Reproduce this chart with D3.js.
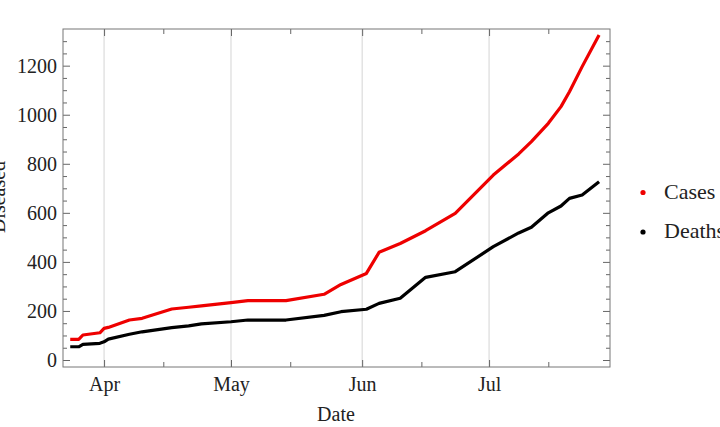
<!DOCTYPE html>
<html>
<head>
<meta charset="utf-8">
<script src="https://cdn.jsdelivr.net/npm/d3@7"></script>
<style>
  body { margin: 0; background: #fff; }
  svg text { font-family: "Liberation Serif", "DejaVu Serif", serif; fill: #222; }
</style>
</head>
<body>
<div class="chart-div"></div>
<script>
let dates = ["2020-03-24", "2020-03-26", "2020-03-27", "2020-03-31", "2020-04-01", "2020-04-02",
    "2020-04-07", "2020-04-10", "2020-04-17", "2020-04-21", "2020-04-24", "2020-05-01",
    "2020-05-05", "2020-05-14", "2020-05-23", "2020-05-27", "2020-06-02", "2020-06-05",
    "2020-06-10", "2020-06-16", "2020-06-23", "2020-07-02", "2020-07-08", "2020-07-11",
    "2020-07-15", "2020-07-18", "2020-07-20", "2020-07-23", "2020-07-27"]
let cases = [84, 84, 102, 111, 129, 133, 163, 170, 208, 215, 221, 234, 242, 242, 268, 308,
    353, 439, 475, 527, 598, 754, 840, 890, 965, 1033, 1094, 1196, 1325]
let deaths = [54, 54, 64, 68, 74, 85, 105, 115, 132, 139, 147, 156, 163, 163, 182, 197,
    207, 231, 252, 337, 360, 462, 518, 541, 600, 628, 659, 673, 727]
let yTicks = [0, 200, 400, 600, 800, 1000, 1200]
let monthTicks = ["2020-04-01", "2020-05-01", "2020-06-01", "2020-07-01"]
let midTicks = ["2020-04-15", "2020-05-15", "2020-06-15", "2020-07-15"]
let seriesNames = ["Cases", "Deaths"]
let seriesColors = ["#ee0000", "#000000"]

const chart = () => {
    let width = 720, height = 427
    let frame = {left: 63, right: 610, top: 29, bottom: 367}

    let svg = d3.select(".chart-div").append("svg")
        .attr("width", width)
        .attr("height", height)

    let parse = d3.utcParse("%Y-%m-%d")
    let x = d3.scaleUtc()
        .domain([new Date(Date.UTC(2020, 2, 22, 7)), new Date(Date.UTC(2020, 6, 29, 14))])
        .range([frame.left, frame.right])
    let y = d3.scaleLinear()
        .domain([-28.5, 1349.5])
        .range([frame.bottom, frame.top])

    // month grid lines
    svg.append("g").selectAll("line")
        .data(monthTicks.map(parse))
        .enter().append("line")
        .attr("x1", d => x(d)).attr("x2", d => x(d))
        .attr("y1", frame.top).attr("y2", frame.bottom)
        .style("stroke", "#d4d4d4")
        .style("stroke-width", 1)

    let plotH = frame.bottom - frame.top
    let plotW = frame.right - frame.left

    // axes with inward ticks, mirrored on the opposite sides
    let xMajor = monthTicks.map(parse), xMinor = midTicks.map(parse)
    let yMinor = d3.range(0, 1301, 50).filter(v => v % 200 !== 0)

    let axisStyle = g => {
        g.select(".domain").remove()
        g.selectAll(".tick line").style("stroke", "#666")
        g.selectAll("text").style("font-size", "20px")
    }

    svg.append("g")
        .attr("transform", `translate(0,${frame.bottom})`)
        .call(d3.axisBottom(x).tickValues(xMajor).tickFormat(d3.utcFormat("%b"))
            .tickSizeInner(-7).tickPadding(10))
        .call(axisStyle)
    svg.append("g")
        .attr("transform", `translate(0,${frame.bottom})`)
        .call(d3.axisBottom(x).tickValues(xMinor).tickFormat("").tickSizeInner(-5))
        .call(axisStyle)
    svg.append("g")
        .attr("transform", `translate(0,${frame.top})`)
        .call(d3.axisTop(x).tickValues(xMajor).tickFormat("").tickSizeInner(-7))
        .call(axisStyle)
    svg.append("g")
        .attr("transform", `translate(0,${frame.top})`)
        .call(d3.axisTop(x).tickValues(xMinor).tickFormat("").tickSizeInner(-5))
        .call(axisStyle)

    svg.append("g")
        .attr("transform", `translate(${frame.left},0)`)
        .call(d3.axisLeft(y).tickValues(yTicks).tickFormat(d3.format("d"))
            .tickSizeInner(-7).tickPadding(6))
        .call(axisStyle)
    svg.append("g")
        .attr("transform", `translate(${frame.left},0)`)
        .call(d3.axisLeft(y).tickValues(yMinor).tickFormat("").tickSizeInner(-4))
        .call(axisStyle)
    svg.append("g")
        .attr("transform", `translate(${frame.right},0)`)
        .call(d3.axisRight(y).tickValues(yTicks).tickFormat("").tickSizeInner(-7))
        .call(axisStyle)
    svg.append("g")
        .attr("transform", `translate(${frame.right},0)`)
        .call(d3.axisRight(y).tickValues(yMinor).tickFormat("").tickSizeInner(-4))
        .call(axisStyle)

    svg.append("rect")
        .attr("x", frame.left).attr("y", frame.top)
        .attr("width", plotW).attr("height", plotH)
        .style("fill", "none")
        .style("stroke", "#777")
        .style("stroke-width", 1)

    // series
    let line = d3.line()
        .x((d, i) => x(parse(dates[i])))
        .y(d => y(d))

    let series = [cases, deaths]
    svg.append("g").selectAll("path")
        .data(series)
        .enter().append("path")
        .attr("d", d => line(d))
        .style("fill", "none")
        .style("stroke", (d, i) => seriesColors[i])
        .style("stroke-width", 3.2)
        .style("stroke-linejoin", "round")

    // axis titles
    svg.append("text")
        .attr("x", 336)
        .attr("y", 421)
        .attr("text-anchor", "middle")
        .style("font-size", "20px")
        .text("Date")
    svg.append("text")
        .attr("transform", "translate(5,197) rotate(-90)")
        .attr("text-anchor", "middle")
        .style("font-size", "20px")
        .text("Diseased")

    // legend
    let legend = svg.selectAll("g.legend")
        .data(seriesNames)
        .enter().append("g")
        .attr("class", "legend")
        .attr("transform", (d, i) => `translate(643,${192.5 + i * 39.5})`)
    legend.append("circle")
        .attr("r", 2.6)
        .style("fill", (d, i) => seriesColors[i])
    legend.append("text")
        .attr("x", 21)
        .attr("y", 6)
        .style("font-size", "22px")
        .text(d => d)
}

chart()
</script>
</body>
</html>
